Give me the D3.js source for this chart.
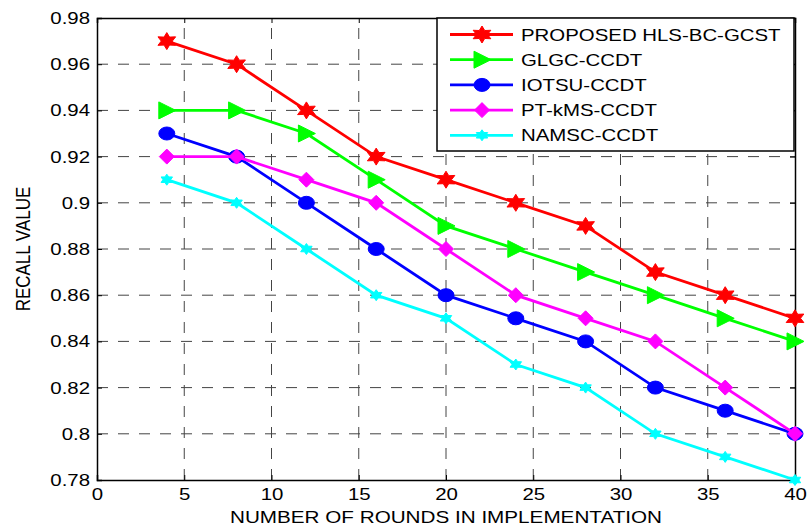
<html>
<head>
    <script src="https://d3js.org/d3.v7.min.js"></script>
    <style>
        body { margin: 0; background: #fff; }
        text { font-family: "Liberation Sans", Arial, sans-serif; fill: #000; }
    </style>
</head>
<body>
<div class="chart"></div>
<script>
    // chart data
    const rounds = [4, 8, 12, 16, 20, 24, 28, 32, 36, 40];
    const seriesNames = ["PROPOSED HLS-BC-GCST", "GLGC-CCDT", "IOTSU-CCDT", "PT-kMS-CCDT", "NAMSC-CCDT"];
    const proposed = [0.97, 0.96, 0.94, 0.92, 0.91, 0.90, 0.89, 0.87, 0.86, 0.85];
    const glgc     = [0.94, 0.94, 0.93, 0.91, 0.89, 0.88, 0.87, 0.86, 0.85, 0.84];
    const iotsu    = [0.93, 0.92, 0.90, 0.88, 0.86, 0.85, 0.84, 0.82, 0.81, 0.80];
    const ptkms    = [0.92, 0.92, 0.91, 0.90, 0.88, 0.86, 0.85, 0.84, 0.82, 0.80];
    const namsc    = [0.91, 0.90, 0.88, 0.86, 0.85, 0.83, 0.82, 0.80, 0.79, 0.78];
    const xTicks = [0, 5, 10, 15, 20, 25, 30, 35, 40];
    const yTicks = [0.78, 0.80, 0.82, 0.84, 0.86, 0.88, 0.90, 0.92, 0.94, 0.96, 0.98];

    const W = 809, H = 526;
    const pLeft = 97, pRight = 795, pTop = 18, pBottom = 480;
    const stretch = 1.2; // the picture is a bit wider than tall

    const svg = d3.select('.chart').append('svg')
        .attr('width', W)
        .attr('height', H);

    const xScale = d3.scaleLinear().domain([0, 40]).range([pLeft, pRight]);
    const yScale = d3.scaleLinear().domain([0.78, 0.98]).range([pBottom, pTop]);

    // widen a text a bit
    function widen(sel) {
        sel.each(function() {
            const w = this.getComputedTextLength();
            d3.select(this).attr('textLength', w * stretch).attr('lengthAdjust', 'spacingAndGlyphs');
        });
    }

    // grid
    svg.append('g').selectAll('line')
        .data(xTicks.slice(1, -1))
        .join('line')
        .attr('x1', d => xScale(d)).attr('x2', d => xScale(d))
        .attr('y1', pBottom).attr('y2', pTop)
        .attr('stroke', '#444').attr('stroke-width', 1)
        .attr('stroke-dasharray', '11,10');
    svg.append('g').selectAll('line')
        .data(yTicks.slice(1, -1))
        .join('line')
        .attr('x1', pLeft).attr('x2', pRight)
        .attr('y1', d => yScale(d)).attr('y2', d => yScale(d))
        .attr('stroke', '#444').attr('stroke-width', 1)
        .attr('stroke-dasharray', '11,10');

    // axes (ticks inside, box like matlab)
    const fmtY = d => d3.format('.2f')(d).replace(/0$/, '').replace(/\.$/, '');
    const xAxis = svg.append('g')
        .attr('transform', `translate(0,${pBottom})`)
        .call(d3.axisBottom(xScale).tickValues(xTicks).tickSize(-5).tickPadding(8));
    const xAxisTop = svg.append('g')
        .attr('transform', `translate(0,${pTop})`)
        .call(d3.axisTop(xScale).tickValues(xTicks).tickSize(-5).tickFormat(''));
    const yAxis = svg.append('g')
        .attr('transform', `translate(${pLeft},0)`)
        .call(d3.axisLeft(yScale).tickValues(yTicks).tickSize(-5).tickPadding(7).tickFormat(fmtY));
    const yAxisRight = svg.append('g')
        .attr('transform', `translate(${pRight},0)`)
        .call(d3.axisRight(yScale).tickValues(yTicks).tickSize(-5).tickFormat(''));
    [xAxis, xAxisTop, yAxis, yAxisRight].forEach(g => {
        g.selectAll('path').attr('stroke', '#000').attr('stroke-width', 1.5);
        g.selectAll('.tick line').attr('stroke', '#000');
        g.selectAll('text').style('font-size', '17px').attr('fill', '#000')
            .style('font-family', '"Liberation Sans", Arial, sans-serif')
            .call(widen);
    });

    // axis labels
    svg.append('text')
        .attr('x', 446).attr('y', 523)
        .attr('text-anchor', 'middle')
        .attr('textLength', 432).attr('lengthAdjust', 'spacingAndGlyphs')
        .style('font-size', '17px')
        .text('NUMBER OF ROUNDS IN IMPLEMENTATION');
    svg.append('text')
        .attr('transform', `translate(30,249) scale(${stretch},1) rotate(-90)`)
        .attr('text-anchor', 'middle')
        .style('font-size', '17px')
        .text('RECALL VALUE');

    // markers
    function star(r1, r2, n) {
        const pts = [];
        for (let i = 0; i < n * 2; i++) {
            const a = Math.PI * i / n - Math.PI / 2;
            const r = i % 2 === 0 ? r1 : r2;
            pts.push([r * Math.cos(a) * stretch, r * Math.sin(a)]);
        }
        return 'M' + pts.map(p => p.join(',')).join('L') + 'Z';
    }
    const series = [
        { name: seriesNames[0], values: proposed, color: '#ff0000', shape: star(8.5, 4.6, 6) },
        { name: seriesNames[1], values: glgc, color: '#00ff00', shape: 'M-8,-8.5L9,0L-8,8.5Z' },
        { name: seriesNames[2], values: iotsu, color: '#0000ff', shape: 'M-8,0A8,6.5 0 1,0 8,0A8,6.5 0 1,0 -8,0Z' },
        { name: seriesNames[3], values: ptkms, color: '#ff00ff', shape: 'M0,-7.5L7.5,0L0,7.5L-7.5,0Z' },
        { name: seriesNames[4], values: namsc, color: '#00ffff', shape: star(5.5, 3.2, 6) }
    ];

    const line = d3.line().x(d => xScale(d[0])).y(d => yScale(d[1]));
    const plot = svg.append('g');
    series.forEach(s => {
        const pts = rounds.map((r, i) => [r, s.values[i]]);
        plot.append('path')
            .datum(pts)
            .attr('fill', 'none')
            .attr('stroke', s.color)
            .attr('stroke-width', 2.8)
            .attr('d', line);
        plot.selectAll(null)
            .data(pts)
            .join('path')
            .attr('transform', d => `translate(${xScale(d[0])},${yScale(d[1])})`)
            .attr('d', s.shape)
            .attr('fill', s.color)
            .attr('stroke', s.color)
            .attr('stroke-width', 1);
    });

    // legend
    const lg = svg.append('g');
    lg.append('rect')
        .attr('x', 437).attr('y', pTop)
        .attr('width', 794 - 437).attr('height', 133)
        .attr('fill', '#fff').attr('stroke', '#000').attr('stroke-width', 1.5);
    series.forEach((s, i) => {
        const y = 34.5 + i * 25.2;
        lg.append('line')
            .attr('x1', 450).attr('x2', 513)
            .attr('y1', y).attr('y2', y)
            .attr('stroke', s.color).attr('stroke-width', 2.8);
        lg.append('path')
            .attr('transform', `translate(482,${y})`)
            .attr('d', s.shape)
            .attr('fill', s.color).attr('stroke', s.color);
        lg.append('text')
            .attr('x', 521).attr('y', y + 6)
            .style('font-size', '17px')
            .text(s.name)
            .call(widen);
    });
</script>
</body>
</html>
